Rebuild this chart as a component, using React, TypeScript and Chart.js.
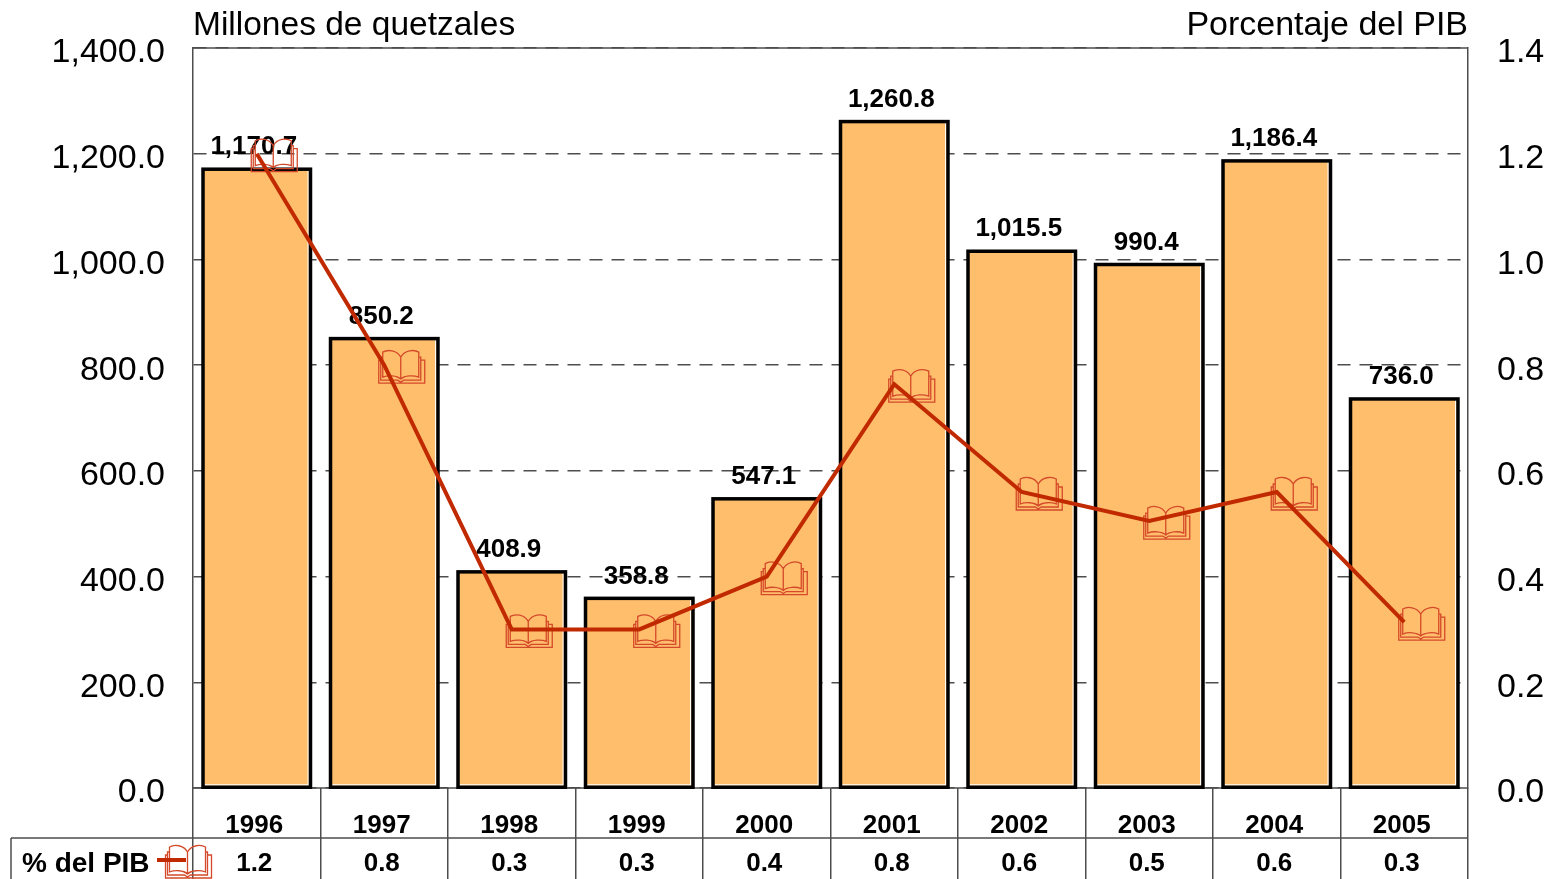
import React, { useEffect, useRef } from "react";
import { Chart, registerables } from "chart.js";

Chart.register(...registerables);

const years = ["1996", "1997", "1998", "1999", "2000", "2001", "2002", "2003", "2004", "2005"];
const millones = [1170.7, 850.2, 408.9, 358.8, 547.1, 1260.8, 1015.5, 990.4, 1186.4, 736.0];
const pctPib = [1.2, 0.8, 0.3, 0.3, 0.4, 0.764, 0.56, 0.505, 0.56, 0.314];
const pctLabels = ["1.2", "0.8", "0.3", "0.3", "0.4", "0.8", "0.6", "0.5", "0.6", "0.3"];
const leftTitle = "Millones de quetzales";
const rightTitle = "Porcentaje del PIB";
const rowLabel = "% del PIB";

const FONT = "'Liberation Sans', Arial, sans-serif";
const LINE = "#C12A00";
const BOOK = "#D4492A";
const GREY = "#4d4d4d";
const STROKE = 3.5;

function drawBook(ctx: CanvasRenderingContext2D, cx: number, cy: number) {
  ctx.save();
  ctx.translate(cx, cy);
  ctx.strokeStyle = BOOK;
  ctx.lineWidth = 1.3;
  ctx.beginPath();
  ctx.moveTo(-1, -10);
  ctx.bezierCurveTo(-5, -17, -14, -18, -19, -15);
  ctx.lineTo(-19, 10);
  ctx.bezierCurveTo(-14, 8, -5, 8, -1, 12);
  ctx.bezierCurveTo(3, 8, 12, 8, 17, 10);
  ctx.lineTo(17, -15);
  ctx.bezierCurveTo(12, -18, 3, -17, -1, -10);
  ctx.lineTo(-1, 12);
  ctx.moveTo(-19, -10);
  ctx.lineTo(-21, -10);
  ctx.lineTo(-21, 13);
  ctx.lineTo(-4, 13);
  ctx.lineTo(-1, 15);
  ctx.lineTo(2, 13);
  ctx.lineTo(19, 13);
  ctx.lineTo(19, -10);
  ctx.lineTo(17, -10);
  ctx.moveTo(-21, -7);
  ctx.lineTo(-23, -7);
  ctx.lineTo(-23, 16);
  ctx.lineTo(23, 16);
  ctx.lineTo(23, -7);
  ctx.lineTo(19, -7);
  ctx.stroke();
  ctx.restore();
}

const decorations = {
  id: "decorations",
  beforeDatasetsDraw(chart: any) {
    const { ctx, chartArea: a } = chart;
    ctx.save();
    ctx.strokeStyle = GREY;
    ctx.lineWidth = 1.5;
    ctx.beginPath();
    ctx.moveTo(a.left, a.top);
    ctx.lineTo(a.right, a.top);
    ctx.moveTo(a.left, a.bottom);
    ctx.lineTo(a.right, a.bottom);
    ctx.moveTo(11, 838);
    ctx.lineTo(a.right, 838);
    ctx.moveTo(11, 838);
    ctx.lineTo(11, 879);
    ctx.stroke();
    ctx.restore();
  },
  afterDatasetDraw(chart: any, args: any) {
    const { ctx } = chart;
    if (args.index !== 0) return;
    ctx.save();
    args.meta.data.forEach((bar: any, i: number) => {
      const half = bar.width / 2;
      const inner = STROKE / 2 + 0.6;
      ctx.strokeStyle = "#ffffff";
      ctx.lineWidth = 1.2;
      ctx.beginPath();
      ctx.moveTo(bar.x + half - inner, bar.y + 1);
      ctx.lineTo(bar.x + half - inner, bar.base - inner);
      ctx.lineTo(bar.x - half + 1, bar.base - inner);
      ctx.stroke();
      ctx.strokeStyle = "#000000";
      ctx.lineWidth = STROKE;
      ctx.strokeRect(bar.x - half, bar.y, bar.width, bar.base - bar.y);
      ctx.fillStyle = "#000";
      ctx.font = `bold 26px ${FONT}`;
      ctx.textAlign = "center";
      ctx.textBaseline = "middle";
      ctx.fillText(
        millones[i].toLocaleString("en-US", { minimumFractionDigits: 1, maximumFractionDigits: 1 }),
        bar.x - 3,
        bar.y - 22,
      );
    });
    ctx.restore();
  },
  beforeDatasetDraw(chart: any, args: any) {
    if (args.index !== 1) return;
    args.meta.data.forEach((pt: any) => drawBook(chart.ctx, pt.x + 17.5, pt.y + 2));
  },
  afterDraw(chart: any) {
    const { ctx, chartArea: a } = chart;
    ctx.save();
    ctx.fillStyle = "#000";
    ctx.textBaseline = "middle";
    ctx.font = `33.5px ${FONT}`;
    ctx.textAlign = "left";
    ctx.fillText(leftTitle, a.left, 26);
    ctx.font = `34px ${FONT}`;
    ctx.textAlign = "right";
    ctx.fillText(rightTitle, a.right, 26);
    ctx.font = `bold 28px ${FONT}`;
    ctx.textAlign = "left";
    ctx.fillText(rowLabel, 22, 864);
    drawBook(ctx, 188.5, 862);
    ctx.strokeStyle = LINE;
    ctx.lineWidth = 4;
    ctx.beginPath();
    ctx.moveTo(157, 860);
    ctx.lineTo(186, 860);
    ctx.stroke();
    ctx.restore();
  },
};

export default function App() {
  const ref = useRef<HTMLCanvasElement>(null);
  useEffect(() => {
    const chart = new Chart(ref.current!, {
      type: "bar",
      plugins: [decorations],
      data: {
        labels: years.map((y, i) => [y, pctLabels[i]]),
        datasets: [
          {
            type: "bar",
            label: "Millones de quetzales",
            data: millones,
            backgroundColor: "#FFBE6C",
            borderWidth: 0,
            barPercentage: 0.843,
            categoryPercentage: 1,
            yAxisID: "y",
            order: 2,
          },
          {
            type: "line",
            label: "% del PIB",
            data: pctPib,
            borderColor: LINE,
            borderWidth: 4,
            pointRadius: 0,
            tension: 0,
            yAxisID: "y1",
            order: 1,
          },
        ],
      } as any,
      options: {
        responsive: false,
        animation: false,
        layout: { padding: { top: 48, left: 0, right: 0, bottom: 0 } },
        plugins: { legend: { display: false }, title: { display: false }, tooltip: { enabled: false } },
        scales: {
          x: {
            afterFit(s: any) { s.height = 91; },
            grid: {
              offset: true,
              drawOnChartArea: false,
              drawTicks: true,
              tickLength: 91,
              tickColor: GREY,
              lineWidth: 1.5,
            },
            border: { display: false },
            ticks: {
              autoSkip: false,
              maxRotation: 0,
              padding: -72,
              labelOffset: -2.5,
              color: "#000",
              font: { family: FONT, size: 26, weight: "bold", lineHeight: "38px" },
            },
          },
          y: {
            position: "left",
            min: 0,
            max: 1400,
            afterFit(s: any) { s.width = 193; },
            grid: {
              drawTicks: false,
              color: GREY,
              lineWidth: 1.5,
            },
            border: { display: true, color: GREY, width: 1.5, dash: [13, 9] },
            ticks: {
              stepSize: 200,
              padding: 28,
              color: "#000",
              font: { family: FONT, size: 34, lineHeight: "10px" },
              callback: (v: any) => [
                "",
                Number(v).toLocaleString("en-US", { minimumFractionDigits: 1, maximumFractionDigits: 1 }),
              ],
            },
          },
          y1: {
            position: "right",
            min: 0,
            max: 1.4,
            afterFit(s: any) { s.width = 82; },
            grid: { display: false, drawTicks: false },
            border: { display: true, color: GREY, width: 1.5 },
            ticks: {
              stepSize: 0.2,
              padding: 29,
              color: "#000",
              font: { family: FONT, size: 34, lineHeight: "10px" },
              callback: (v: any) => ["", Number(v).toFixed(1)],
            },
          },
        },
      } as any,
    });
    return () => chart.destroy();
  }, []);
  return (
    <div style={{ position: "fixed", left: 0, top: 0, width: 1550, height: 879, background: "#fff" }}>
      <canvas ref={ref} width={1550} height={879} style={{ display: "block" }} />
    </div>
  );
}
